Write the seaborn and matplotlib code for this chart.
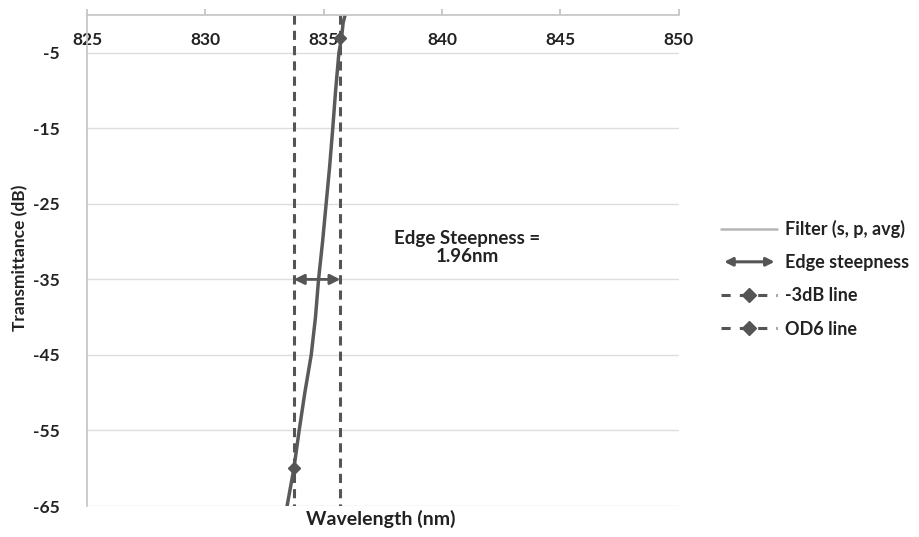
import matplotlib
matplotlib.use('Agg')
import matplotlib.pyplot as plt
import seaborn as sns
import pandas as pd
from matplotlib.lines import Line2D
from matplotlib.patches import FancyArrowPatch
from matplotlib.legend_handler import HandlerBase


# Data

wavelength = [833.45, 833.74, 833.96, 834.20, 834.47, 834.65, 834.78, 834.95,
              835.10, 835.25, 835.38, 835.50, 835.64, 835.75, 835.82, 835.90]
transmittance = [-65, -60, -55, -50, -45, -40, -35, -30,
                 -25, -20, -15, -10, -5, -3, -1, 0]

db3_x = [835.70, 835.70, 835.70]
db3_y = [0, -3, -65]
od6_x = [833.74, 833.74, 833.74]
od6_y = [0, -60, -65]

steep_y = -35
steepness_text = 'Edge Steepness =\n1.96nm'

x_ticks = [825, 830, 835, 840, 845, 850]
y_ticks = [-65, -55, -45, -35, -25, -15, -5]

df = pd.DataFrame({'Wavelength': wavelength, 'Transmittance': transmittance})


# Figure

sns.set_theme(style='white')
plt.rcParams['font.family'] = ['Lato', 'DejaVu Sans']
plt.rcParams['font.weight'] = 'bold'
plt.rcParams['axes.unicode_minus'] = False

fig = plt.figure(figsize=(9.19, 5.37), dpi=100)
ax = fig.add_axes([0.0947, 0.0577, 0.644, 0.9143])

dark = '#555555'
txt = '#222222'

sns.lineplot(data=df, x='Wavelength', y='Transmittance', ax=ax, color='#5a5a5a',
             linewidth=2.5, sort=False, estimator=None)

ax.plot(db3_x, db3_y, color=dark, linestyle=(0, (3, 2)), linewidth=2.2,
        marker='D', markersize=6.5, markevery=[1])
ax.plot(od6_x, od6_y, color=dark, linestyle=(0, (3, 2)), linewidth=2.2,
        marker='D', markersize=6.5, markevery=[1])

# edge steepness arrow between the two lines
ax.annotate('', xy=(db3_x[0], steep_y), xytext=(od6_x[0], steep_y),
            arrowprops=dict(arrowstyle='<|-|>', color=dark, lw=2, mutation_scale=15,
                            shrinkA=0, shrinkB=0))
ax.text(841.05, -30.8, steepness_text, ha='center', va='center',
        fontsize=13.5, fontweight='bold', color=txt, linespacing=1.05)

ax.set_xlim(825, 850)
ax.set_ylim(-65, 0)
ax.set_xticks(x_ticks)
ax.set_yticks(y_ticks)

ax.grid(axis='y', color='#dedede', linewidth=1)
ax.grid(axis='x', visible=False)
for s in ['right', 'bottom']:
    ax.spines[s].set_visible(False)
for s in ['top', 'left']:
    ax.spines[s].set_color('#c4c4c4')
    ax.spines[s].set_linewidth(1.2)

ax.tick_params(axis='x', top=True, labeltop=True, bottom=False, labelbottom=False,
               direction='out', length=4, color='#c4c4c4', pad=-28,
               labelsize=12.5, labelcolor=txt)
ax.tick_params(axis='y', left=False, pad=14, labelsize=12.5, labelcolor=txt)
for lab in ax.get_xticklabels() + ax.get_yticklabels():
    lab.set_fontweight('bold')

ax.set_xlabel('Wavelength (nm)', fontsize=14, fontweight='bold', color=txt)
ax.xaxis.set_label_position('bottom')
ax.xaxis.set_label_coords(0.497, -0.008)
ax.set_ylabel('Transmittance (dB)', fontsize=12.5, fontweight='bold', color=txt)
ax.yaxis.set_label_coords(-0.1, 0.505)


# Legend

class HandlerArrow(HandlerBase):
    def create_artists(self, legend, orig_handle, xdescent, ydescent, width, height,
                       fontsize, trans):
        y = height / 2 - ydescent
        a = FancyArrowPatch((-xdescent, y), (width - xdescent, y), arrowstyle='<|-|>',
                            mutation_scale=12, color=dark, lw=2.2, transform=trans)
        return [a]


filter_h = Line2D([], [], color='#b5b5b5', linewidth=1.8)
arrow_h = FancyArrowPatch((0, 0), (1, 0))
db3_h = Line2D([], [], color=dark, linestyle=(0, (3, 3)), linewidth=2.2, marker='D', markersize=7)
od6_h = Line2D([], [], color=dark, linestyle=(0, (3, 3)), linewidth=2.2, marker='D', markersize=7)

fig.legend([filter_h, arrow_h, db3_h, od6_h],
           ['Filter (s, p, avg)', 'Edge steepness', '-3dB line', 'OD6 line'],
           handler_map={arrow_h: HandlerArrow()},
           loc='center left', bbox_to_anchor=(0.785, 0.481), frameon=False,
           borderpad=0, borderaxespad=0,
           fontsize=13, handlelength=3.1, labelspacing=0.9, handletextpad=0.4,
           labelcolor=txt)

plt.savefig('out.png', dpi=100)
